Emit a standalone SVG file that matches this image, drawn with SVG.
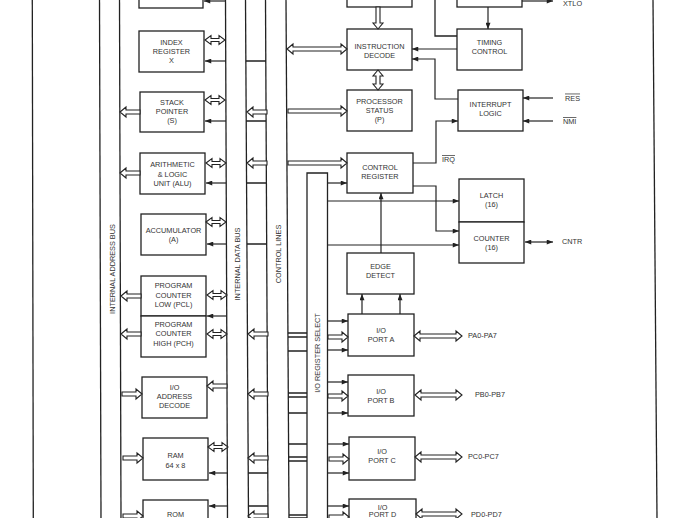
<svg xmlns="http://www.w3.org/2000/svg" xmlns:xlink="http://www.w3.org/1999/xlink" width="690" height="518" viewBox="0 0 690 518">
<style>
.b{fill:#fff;stroke:#222;stroke-width:1.3}
.t{font-family:"Liberation Sans",Arial,sans-serif;font-size:7.3px;fill:#333;text-anchor:middle}
.l{font-family:"Liberation Sans",Arial,sans-serif;font-size:7.3px;fill:#333}
.w{fill:none;stroke:#222;stroke-width:1.3}
.a{fill:none;stroke:#222;stroke-width:1.2;marker-end:url(#ah)}
.a2{fill:none;stroke:#222;stroke-width:1.2;marker-end:url(#ah);marker-start:url(#ahs)}
.h{fill:#fff;stroke:#222;stroke-width:1.1}
.ov{text-decoration:overline}
</style>
<defs>
<marker id="ah" viewBox="0 0 10 8" refX="10" refY="4" markerWidth="7" markerHeight="5" orient="auto" markerUnits="userSpaceOnUse"><path d="M0,0 L10,4 L0,8 Z" fill="#222"/></marker>
<marker id="ahs" viewBox="0 0 10 8" refX="10" refY="4" markerWidth="7" markerHeight="5" orient="auto-start-reverse" markerUnits="userSpaceOnUse"><path d="M0,0 L10,4 L0,8 Z" fill="#222"/></marker>
<path id="dbs" d="M0,0 L6,-4.5 L6,-1.5 L14,-1.5 L14,-4.5 L20,0 L14,4.5 L14,1.5 L6,1.5 L6,4.5 Z"/>
<path id="hl" d="M0,0 L6,-5 L6,-2 L20,-2 L20,2 L6,2 L6,5 Z"/>
<path id="hr" d="M0,0 L-6,-5 L-6,-2 L-20,-2 L-20,2 L-6,2 L-6,5 Z"/>
</defs>
<rect width="690" height="518" fill="#fff"/>

<g id="buses">
<line class="w" x1="32.3" y1="0" x2="33.3" y2="518"/>
<line class="w" x1="99.5" y1="0" x2="101" y2="518"/>
<line class="w" x1="119.5" y1="0" x2="121" y2="518"/>
<line class="w" x1="225.5" y1="0" x2="227.5" y2="518"/>
<line class="w" x1="245.5" y1="0" x2="248.5" y2="518"/>
<line class="w" x1="265.5" y1="0" x2="268" y2="518"/>
<line class="w" x1="286" y1="0" x2="289" y2="518"/>
<path class="w" d="M307,520 V173 H327.5 V520"/>
<line class="w" x1="653" y1="0" x2="657" y2="518"/>
<text class="t" transform="translate(114.5,269) rotate(-90)">INTERNAL ADDRESS BUS</text>
<text class="t" transform="translate(239.5,264) rotate(-90)">INTERNAL DATA BUS</text>
<text class="t" transform="translate(280.5,254) rotate(-90)">CONTROL LINES</text>
<text class="t" transform="translate(320,353) rotate(-90)">I/O REGISTER SELECT</text>
</g>

<g id="n-top-left"><rect class="b" x="139" y="-6" width="64" height="14"/></g>
<g id="n-index-x"><rect class="b" x="139" y="31" width="65" height="41"/>
<text class="t" x="171.5" y="44.6">INDEX</text><text class="t" x="171.5" y="53.6">REGISTER</text><text class="t" x="171.5" y="62.6">X</text></g>
<g id="n-stack"><rect class="b" x="140" y="92" width="64" height="40"/>
<text class="t" x="172" y="104.6">STACK</text><text class="t" x="172" y="113.6">POINTER</text><text class="t" x="172" y="123">(S)</text></g>
<g id="n-alu"><rect class="b" x="140" y="153" width="65" height="41"/>
<text class="t" x="172.5" y="166.6">ARITHMETIC</text><text class="t" x="172.5" y="176.6">&amp; LOGIC</text><text class="t" x="172.5" y="185.6">UNIT (ALU)</text></g>
<g id="n-acc"><rect class="b" x="141" y="214" width="65" height="41"/>
<text class="t" x="173.5" y="232.6">ACCUMULATOR</text><text class="t" x="173.5" y="241.6">(A)</text></g>
<g id="n-pcl"><rect class="b" x="141" y="276" width="65" height="40"/>
<text class="t" x="173.5" y="288">PROGRAM</text><text class="t" x="173.5" y="297.6">COUNTER</text><text class="t" x="173.5" y="306.6">LOW (PCL)</text></g>
<g id="n-pch"><rect class="b" x="141" y="316" width="65" height="41"/>
<text class="t" x="173.5" y="327">PROGRAM</text><text class="t" x="173.5" y="336">COUNTER</text><text class="t" x="173.5" y="345.6">HIGH (PCH)</text></g>
<g id="n-ioad"><rect class="b" x="142" y="377" width="65" height="41"/>
<text class="t" x="174.5" y="389.6">I/O</text><text class="t" x="174.5" y="398.6">ADDRESS</text><text class="t" x="174.5" y="408">DECODE</text></g>
<g id="n-ram"><rect class="b" x="143" y="438" width="65" height="42"/>
<text class="t" x="175.5" y="457.6">RAM</text><text class="t" x="175.5" y="467.6">64 x 8</text></g>
<g id="n-rom"><rect class="b" x="143" y="500" width="65" height="25"/>
<text class="t" x="175.5" y="516.6">ROM</text></g>

<g id="n-top-mid"><rect class="b" x="347" y="-6" width="65" height="13"/></g>
<g id="n-id"><rect class="b" x="347" y="29" width="65" height="41"/>
<text class="t" x="379.5" y="48.6">INSTRUCTION</text><text class="t" x="379.5" y="57.6">DECODE</text></g>
<g id="n-ps"><rect class="b" x="347" y="90" width="65" height="41"/>
<text class="t" x="379.5" y="103.6">PROCESSOR</text><text class="t" x="379.5" y="112.6">STATUS</text><text class="t" x="379.5" y="122">(P)</text></g>
<g id="n-cr"><rect class="b" x="347" y="153" width="66" height="40"/>
<text class="t" x="380" y="169.6">CONTROL</text><text class="t" x="380" y="178.6">REGISTER</text></g>
<g id="n-ed"><rect class="b" x="347" y="253" width="67" height="41"/>
<text class="t" x="380.5" y="268.6">EDGE</text><text class="t" x="380.5" y="277.6">DETECT</text></g>
<g id="n-pa"><rect class="b" x="348" y="314" width="66" height="42"/>
<text class="t" x="381" y="332.6">I/O</text><text class="t" x="381" y="341.6">PORT A</text></g>
<g id="n-pb"><rect class="b" x="348" y="375" width="66" height="41"/>
<text class="t" x="381" y="393.6">I/O</text><text class="t" x="381" y="402.6">PORT B</text></g>
<g id="n-pc"><rect class="b" x="349" y="437" width="66" height="43"/>
<text class="t" x="382" y="454">I/O</text><text class="t" x="382" y="463">PORT C</text></g>
<g id="n-pd"><rect class="b" x="349" y="499" width="67" height="25"/>
<text class="t" x="382.5" y="509.5">I/O</text><text class="t" x="382.5" y="517">PORT D</text></g>

<g id="n-top-right"><rect class="b" x="457" y="-6" width="65" height="13"/></g>
<g id="n-tc"><rect class="b" x="457" y="29" width="65" height="41"/>
<text class="t" x="489.5" y="44.6">TIMING</text><text class="t" x="489.5" y="53.6">CONTROL</text></g>
<g id="n-il"><rect class="b" x="458" y="90" width="65" height="41"/>
<text class="t" x="490.5" y="106.6">INTERRUPT</text><text class="t" x="490.5" y="115.6">LOGIC</text></g>
<g id="n-latch"><rect class="b" x="459" y="179" width="65" height="43"/>
<text class="t" x="491.5" y="198">LATCH</text><text class="t" x="491.5" y="207">(16)</text></g>
<g id="n-counter"><rect class="b" x="459" y="222" width="65" height="41"/>
<text class="t" x="491.5" y="240.6">COUNTER</text><text class="t" x="491.5" y="249.6">(16)</text></g>

<g id="connectors">
<use xlink:href="#dbs" class="h" x="205" y="40"/>
<use xlink:href="#dbs" class="h" x="205" y="100"/>
<use xlink:href="#dbs" class="h" x="206" y="163"/>
<use xlink:href="#dbs" class="h" x="206" y="222"/>
<use xlink:href="#dbs" class="h" x="207" y="295"/>
<use xlink:href="#dbs" class="h" x="207" y="334"/>
<use xlink:href="#dbs" class="h" x="208" y="447"/>
<line class="a" x1="226" y1="1" x2="204" y2="1"/>
<line class="a" x1="226" y1="61" x2="205" y2="61"/>
<line class="a" x1="226" y1="121" x2="205" y2="121"/>
<line class="a" x1="226" y1="183" x2="206" y2="183"/>
<line class="a" x1="226" y1="244" x2="207" y2="244"/>
<line class="a" x1="226.5" y1="316" x2="207" y2="316"/>
<line class="a" x1="227" y1="473" x2="209" y2="473"/>
<line class="a" x1="227" y1="506" x2="209" y2="506"/>
<use xlink:href="#hl" class="h" x="207" y="386"/>
<use xlink:href="#hl" class="h" x="120" y="112"/>
<use xlink:href="#hl" class="h" x="120" y="173"/>
<use xlink:href="#hl" class="h" x="121" y="296"/>
<use xlink:href="#hl" class="h" x="121" y="334"/>
<use xlink:href="#hr" class="h" x="142" y="394"/>
<use xlink:href="#hr" class="h" x="143" y="458"/>
<use xlink:href="#hr" class="h" x="143" y="516"/>
<use xlink:href="#hl" class="h" x="247" y="112"/>
<use xlink:href="#hl" class="h" x="247" y="163"/>
<use xlink:href="#hl" class="h" x="248" y="334"/>
<use xlink:href="#hl" class="h" x="248" y="394"/>
<use xlink:href="#hl" class="h" x="248" y="458"/>
<use xlink:href="#hl" class="h" x="248" y="516"/>
<path class="w" d="M246,61 H266 M246,121 H266 M246,183 H266 M247,244 H267 M248,473 H268 M248,506 H268"/>
<path class="w" d="M288,333 H307 M288,337 H307 M288,351 H307 M288,393 H307 M288,397 H307 M288,413 H307 M289,444 H307 M289,457 H307 M289,461 H307 M289,515 H307 M289,518 H307"/>
<path class="h" d="M287,49 L293,44 L293,47 L341,47 L341,44 L347,49 L341,54 L341,51 L293,51 L293,54 Z"/>
<path class="h" d="M347,111 L341,106 L341,109 L288,109 L288,113 L341,113 L341,116 Z"/>
<path class="h" d="M347,163 L341,158 L341,161 L288,161 L288,165 L341,165 L341,168 Z"/>
<path class="h" d="M378,29 L373,23 L376,23 L376,7 L380,7 L380,23 L383,23 Z"/>
<path class="h" d="M378,70 L383,76 L380,76 L380,84 L383,84 L378,90 L373,84 L376,84 L376,76 L373,76 Z"/>
<line class="a" x1="327.5" y1="183" x2="347" y2="183"/>
<line class="a" x1="327.5" y1="201" x2="459" y2="201"/>
<line class="a" x1="327.5" y1="245" x2="459" y2="245"/>
<line class="a" x1="327.5" y1="321" x2="348" y2="321"/>
<line class="a" x1="327.5" y1="350" x2="348" y2="350"/>
<line class="a" x1="327.5" y1="382" x2="348" y2="382"/>
<line class="a" x1="327.5" y1="413" x2="348" y2="413"/>
<line class="a" x1="327.5" y1="444" x2="349" y2="444"/>
<line class="a" x1="327.5" y1="473" x2="349" y2="473"/>
<line class="a" x1="327.5" y1="506" x2="349" y2="506"/>
<use xlink:href="#hr" class="h" x="348" y="337"/>
<use xlink:href="#hr" class="h" x="348" y="396"/>
<use xlink:href="#hr" class="h" x="349" y="459"/>
<use xlink:href="#hr" class="h" x="349" y="517"/>
<path class="h" d="M414,336 L420,331 L420,334 L456,334 L456,331 L462,336 L456,341 L456,338 L420,338 L420,341 Z"/>
<path class="h" d="M415,395 L421,390 L421,393 L456,393 L456,390 L462,395 L456,400 L456,397 L421,397 L421,400 Z"/>
<path class="h" d="M415,457 L421,452 L421,455 L456,455 L456,452 L462,457 L456,462 L456,459 L421,459 L421,462 Z"/>
<path class="h" d="M416,514 L422,509 L422,512 L456,512 L456,509 L462,514 L456,519 L456,516 L422,516 L422,519 Z"/>
<line class="a" x1="381" y1="253" x2="381" y2="193"/>
<line class="a" x1="362" y1="314" x2="362" y2="294"/>
<line class="a" x1="400" y1="314" x2="400" y2="294"/>
<line class="a" x1="457" y1="49" x2="412" y2="49"/>
<polyline class="a" points="458,99 435,99 435,59 412,59"/>
<polyline class="w" points="435,0 435,36 457,36"/>
<line class="a" x1="488" y1="7" x2="488" y2="29"/>
<line class="a" x1="522" y1="1" x2="553" y2="1"/>
<line class="a" x1="553" y1="98" x2="523" y2="98"/>
<line class="a" x1="553" y1="121" x2="523" y2="121"/>
<polyline class="a" points="413,163 436,163 436,121 458,121"/>
<polyline class="a" points="413,186 436,186 436,231 459,231"/>
<line class="a2" x1="525" y1="242" x2="553" y2="242"/>
</g>

<g id="labels">
<text class="l" x="563" y="6">XTLO</text>
<text class="l ov" x="565" y="100.6">RES</text>
<text class="l ov" x="563" y="124">NMI</text>
<text class="l ov" x="442" y="162">IRQ</text>
<text class="l" x="562" y="243.6">CNTR</text>
<text class="l" x="468" y="338">PA0-PA7</text>
<text class="l" x="475" y="396.6">PB0-PB7</text>
<text class="l" x="468" y="458.6">PC0-PC7</text>
<text class="l" x="471" y="516.5">PD0-PD7</text>
</g>
</svg>
